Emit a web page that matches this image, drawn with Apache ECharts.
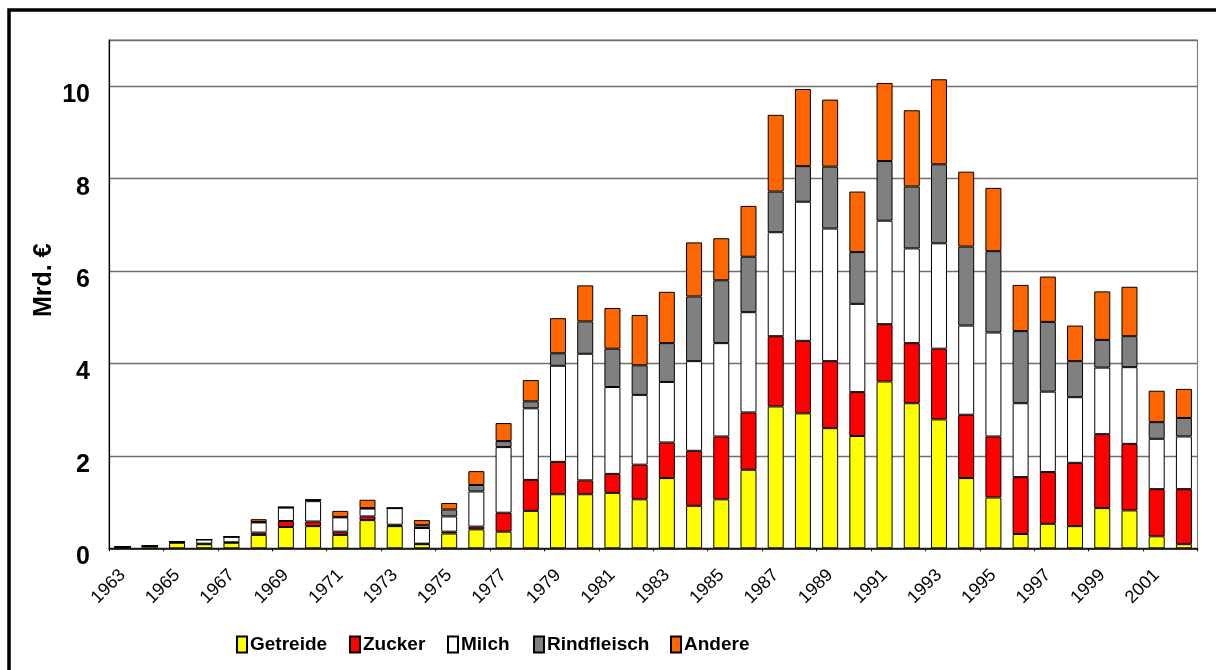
<!DOCTYPE html>
<html>
<head>
<meta charset="utf-8">
<script src="https://cdn.jsdelivr.net/npm/echarts@6/dist/echarts.min.js"></script>
<style>
  html, body { margin: 0; padding: 0; background: #fff; }
  #chart { width: 1216px; height: 670px; }
</style>
</head>
<body>
<div id="chart"></div>
<script>
// EU-Marktordnungsausgaben nach Produktgruppen, Mrd. €
const years = [
  '1963','1964','1965','1966','1967','1968','1969','1970','1971','1972',
  '1973','1974','1975','1976','1977','1978','1979','1980','1981','1982',
  '1983','1984','1985','1986','1987','1988','1989','1990','1991','1992',
  '1993','1994','1995','1996','1997','1998','1999','2000','2001','2002'
];

const getreide = [
  0.03, 0.05, 0.12, 0.09, 0.12, 0.29, 0.46, 0.48, 0.29, 0.61,
  0.48, 0.09, 0.32, 0.41, 0.36, 0.81, 1.17, 1.17, 1.20, 1.06,
  1.52, 0.92, 1.06, 1.70, 3.07, 2.92, 2.60, 2.43, 3.61, 3.14,
  2.79, 1.52, 1.10, 0.31, 0.53, 0.48, 0.87, 0.82, 0.26, 0.09
];
const zucker = [
  0.00, 0.00, 0.01, 0.01, 0.01, 0.05, 0.13, 0.10, 0.07, 0.08,
  0.03, 0.01, 0.04, 0.06, 0.41, 0.67, 0.70, 0.30, 0.41, 0.75,
  0.77, 1.19, 1.36, 1.24, 1.52, 1.57, 1.45, 0.95, 1.24, 1.30,
  1.53, 1.37, 1.32, 1.23, 1.12, 1.37, 1.60, 1.44, 1.02, 1.19
];
const milch = [
  0.00, 0.00, 0.01, 0.09, 0.12, 0.22, 0.29, 0.44, 0.31, 0.17,
  0.36, 0.34, 0.33, 0.76, 1.42, 1.55, 2.08, 2.74, 1.88, 1.51,
  1.31, 1.94, 2.02, 2.17, 2.25, 3.01, 2.87, 1.91, 2.24, 2.05,
  2.28, 1.93, 2.25, 1.60, 1.74, 1.42, 1.44, 1.66, 1.09, 1.14
];
const rindfleisch = [
  0.00, 0.00, 0.00, 0.00, 0.00, 0.01, 0.01, 0.03, 0.01, 0.01,
  0.00, 0.06, 0.15, 0.14, 0.13, 0.15, 0.27, 0.70, 0.83, 0.64,
  0.84, 1.40, 1.36, 1.20, 0.88, 0.77, 1.34, 1.12, 1.29, 1.34,
  1.71, 1.71, 1.76, 1.56, 1.51, 0.78, 0.60, 0.67, 0.36, 0.40
];
const andere = [
  0.00, 0.00, 0.00, 0.00, 0.00, 0.06, 0.00, 0.00, 0.13, 0.18,
  0.00, 0.11, 0.14, 0.30, 0.39, 0.46, 0.76, 0.78, 0.88, 1.09,
  1.11, 1.17, 0.91, 1.10, 1.66, 1.67, 1.45, 1.31, 1.69, 1.65,
  1.84, 1.62, 1.37, 1.00, 0.98, 0.77, 1.05, 1.07, 0.68, 0.63
];

const seriesDefs = [
  { name: 'Getreide',    data: getreide,    color: '#FFFF00', legendX: 231 },
  { name: 'Zucker',      data: zucker,      color: '#FF0000', legendX: 344 },
  { name: 'Milch',       data: milch,       color: '#FFFFFF', legendX: 442 },
  { name: 'Rindfleisch', data: rindfleisch, color: '#808080', legendX: 528 },
  { name: 'Andere',      data: andere,      color: '#FF6600', legendX: 665 }
];

const chart = echarts.init(document.getElementById('chart'), null, { renderer: 'canvas' });

const baseFont = '"Liberation Sans", Arial, sans-serif';

// one legend block per product group so every entry sits at its own spot
const legends = seriesDefs.map(s => ({
  left: s.legendX, top: 630,
  itemWidth: 10, itemHeight: 16, itemGap: 0,
  icon: 'rect',
  textStyle: {
    fontFamily: baseFont, fontWeight: 'bold', fontSize: 19, color: '#000',
    padding: [0, 0, 0, -2]
  },
  selectedMode: false,
  data: [s.name]
}));

const option = {
  backgroundColor: '#ffffff',
  animation: false,
  graphic: [{
    type: 'rect',
    shape: { x: 9, y: 10, width: 1260, height: 720 },
    style: { fill: 'none', stroke: '#000000', lineWidth: 3.5 },
    silent: true
  }],
  grid: {
    left: 109, top: 40, right: 18.5, bottom: 121.7,
    show: true, borderColor: '#808080', borderWidth: 1.2, backgroundColor: 'transparent'
  },
  legend: legends,
  xAxis: {
    type: 'category',
    data: years,
    axisLine: { lineStyle: { color: '#000', width: 1.5 } },
    axisTick: { show: true, length: 3, lineStyle: { color: '#000' } },
    axisLabel: {
      interval: 1, rotate: 45, margin: 24,
      fontFamily: baseFont,
      fontSize: 18, color: '#000'
    }
  },
  yAxis: {
    type: 'value',
    min: 0, max: 11, interval: 2,
    name: 'Mrd. €',
    nameLocation: 'middle',
    nameGap: 52,
    nameMoveOverlap: false,
    nameRotate: 90,
    nameTextStyle: {
      fontFamily: baseFont,
      fontWeight: 'bold', fontSize: 25, color: '#000',
      padding: [0, 0, 0, 28]
    },
    axisLine: { show: true, lineStyle: { color: '#000', width: 1.2 } },
    axisTick: { show: false },
    splitLine: { show: true, lineStyle: { color: '#707070', width: 1.3 } },
    axisLabel: {
      showMaxLabel: false,
      margin: 19,
      fontFamily: baseFont,
      fontWeight: 'bold', fontSize: 25, color: '#000',
      verticalAlign: 'top',
      lineHeight: 18
    }
  },
  series: seriesDefs.map(s => ({
    name: s.name,
    type: 'bar',
    stack: 'total',
    barWidth: 16,
    data: s.data,
    itemStyle: { color: s.color, borderColor: '#000', borderWidth: 1 },
    emphasis: { disabled: true }
  }))
};

chart.setOption(option);
</script>
</body>
</html>
